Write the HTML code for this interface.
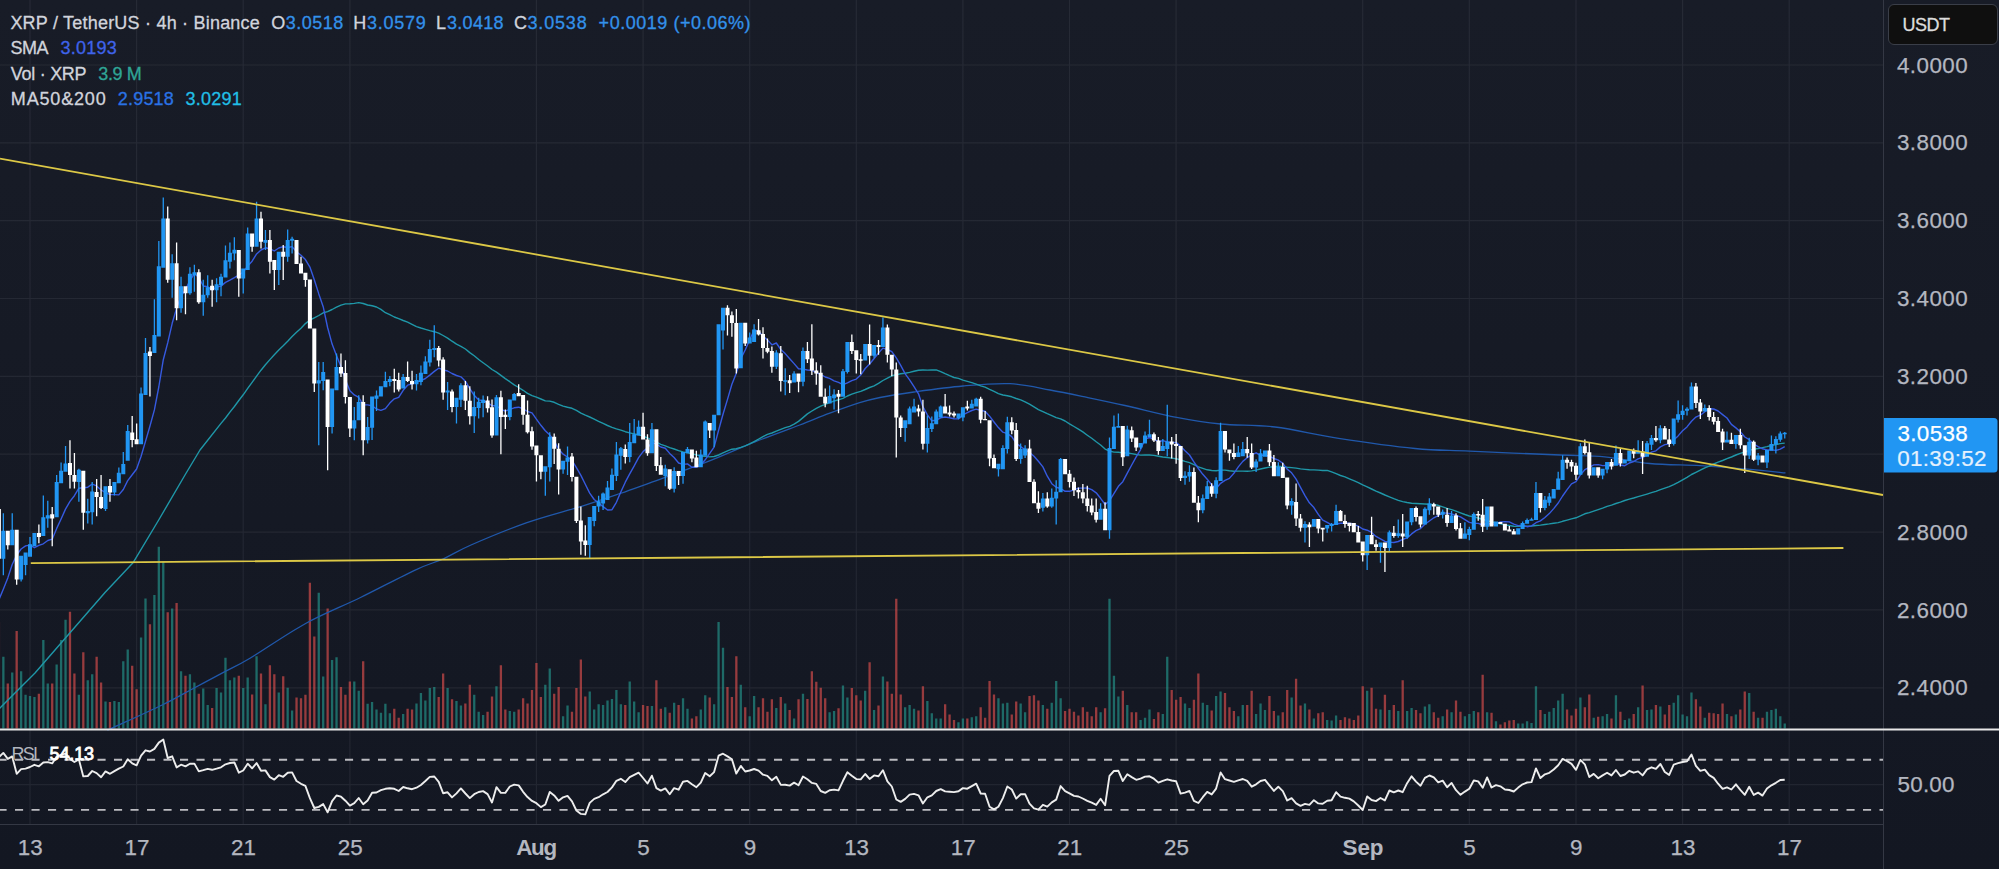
<!DOCTYPE html>
<html><head><meta charset="utf-8"><title>XRP / TetherUS chart</title>
<style>html,body{margin:0;padding:0;background:#131722;}body{width:1999px;height:869px;overflow:hidden;position:relative;background:linear-gradient(to bottom,#181c27 0px,#131722 869px);font-family:'Liberation Sans',Arial,sans-serif}</style>
</head><body>
<svg width="1999" height="869" viewBox="0 0 1999 869" style="position:absolute;left:0;top:0">
<path d="M30.0 0V824M136.6 0V824M243.2 0V824M349.9 0V824M536.4 0V824M643.1 0V824M749.7 0V824M856.3 0V824M962.9 0V824M1069.5 0V824M1176.1 0V824M1362.7 0V824M1469.3 0V824M1576.0 0V824M1682.6 0V824M1789.2 0V824M0 65.0H1884M0 142.8H1884M0 220.7H1884M0 298.5H1884M0 376.4H1884M0 454.2H1884M0 532.1H1884M0 609.9H1884M0 687.8H1884M0 784.7H1884" stroke="#f0f3fa" stroke-opacity="0.065" stroke-width="1.2" fill="none"/>
<path d="M2.20 728.5v-71.8h2.3v71.8zM11.08 728.5v-56.1h2.3v56.1zM19.97 728.5v-57.2h2.3v57.2zM24.41 728.5v-33.7h2.3v33.7zM28.85 728.5v-32.5h2.3v32.5zM33.29 728.5v-31.4h2.3v31.4zM42.18 728.5v-88.6h2.3v88.6zM46.62 728.5v-44.9h2.3v44.9zM55.50 728.5v-63.9h2.3v63.9zM59.95 728.5v-88.6h2.3v88.6zM64.39 728.5v-108.8h2.3v108.8zM77.72 728.5v-33.7h2.3v33.7zM86.60 728.5v-48.2h2.3v48.2zM91.04 728.5v-54.3h2.3v54.3zM104.37 728.5v-26.9h2.3v26.9zM113.26 728.5v-27.4h2.3v27.4zM117.70 728.5v-26.5h2.3v26.5zM122.14 728.5v-67.3h2.3v67.3zM126.58 728.5v-79.0h2.3v79.0zM139.91 728.5v-90.9h2.3v90.9zM144.35 728.5v-130.1h2.3v130.1zM153.24 728.5v-133.5h2.3v133.5zM157.68 728.5v-181.7h2.3v181.7zM162.12 728.5v-167.1h2.3v167.1zM171.01 728.5v-120.0h2.3v120.0zM179.89 728.5v-57.2h2.3v57.2zM188.78 728.5v-54.3h2.3v54.3zM193.22 728.5v-46.0h2.3v46.0zM202.10 728.5v-39.9h2.3v39.9zM206.55 728.5v-23.6h2.3v23.6zM215.43 728.5v-40.4h2.3v40.4zM219.87 728.5v-35.9h2.3v35.9zM224.32 728.5v-70.7h2.3v70.7zM228.76 728.5v-48.2h2.3v48.2zM233.20 728.5v-51.1h2.3v51.1zM242.09 728.5v-40.4h2.3v40.4zM246.53 728.5v-51.1h2.3v51.1zM255.41 728.5v-72.2h2.3v72.2zM264.30 728.5v-24.2h2.3v24.2zM277.62 728.5v-35.9h2.3v35.9zM286.51 728.5v-40.8h2.3v40.8zM290.95 728.5v-17.9h2.3v17.9zM317.61 728.5v-135.7h2.3v135.7zM322.05 728.5v-52.0h2.3v52.0zM330.93 728.5v-68.4h2.3v68.4zM335.38 728.5v-71.3h2.3v71.3zM353.15 728.5v-47.1h2.3v47.1zM357.59 728.5v-37.7h2.3v37.7zM366.47 728.5v-24.7h2.3v24.7zM370.91 728.5v-26.5h2.3v26.5zM375.36 728.5v-19.1h2.3v19.1zM379.80 728.5v-15.7h2.3v15.7zM384.24 728.5v-24.7h2.3v24.7zM388.68 728.5v-15.3h2.3v15.3zM402.01 728.5v-14.6h2.3v14.6zM415.34 728.5v-25.1h2.3v25.1zM419.78 728.5v-35.4h2.3v35.4zM424.22 728.5v-28.0h2.3v28.0zM428.67 728.5v-40.4h2.3v40.4zM433.11 728.5v-41.5h2.3v41.5zM446.44 728.5v-40.4h2.3v40.4zM455.32 728.5v-27.4h2.3v27.4zM459.76 728.5v-22.9h2.3v22.9zM473.09 728.5v-33.7h2.3v33.7zM477.53 728.5v-16.8h2.3v16.8zM481.97 728.5v-13.5h2.3v13.5zM495.30 728.5v-42.2h2.3v42.2zM508.63 728.5v-17.5h2.3v17.5zM513.07 728.5v-16.8h2.3v16.8zM544.17 728.5v-43.7h2.3v43.7zM548.61 728.5v-60.1h2.3v60.1zM561.94 728.5v-12.3h2.3v12.3zM566.38 728.5v-22.9h2.3v22.9zM588.59 728.5v-37.0h2.3v37.0zM593.03 728.5v-19.1h2.3v19.1zM597.48 728.5v-24.2h2.3v24.2zM601.92 728.5v-23.6h2.3v23.6zM606.36 728.5v-28.0h2.3v28.0zM610.80 728.5v-29.6h2.3v29.6zM615.25 728.5v-38.6h2.3v38.6zM619.69 728.5v-24.2h2.3v24.2zM628.57 728.5v-47.1h2.3v47.1zM633.02 728.5v-26.9h2.3v26.9zM637.46 728.5v-16.2h2.3v16.2zM650.79 728.5v-22.4h2.3v22.4zM664.11 728.5v-21.3h2.3v21.3zM673.00 728.5v-25.8h2.3v25.8zM681.88 728.5v-30.3h2.3v30.3zM686.33 728.5v-19.7h2.3v19.7zM699.65 728.5v-19.1h2.3v19.1zM704.09 728.5v-33.2h2.3v33.2zM712.98 728.5v-24.2h2.3v24.2zM717.42 728.5v-106.6h2.3v106.6zM721.86 728.5v-80.8h2.3v80.8zM739.63 728.5v-43.7h2.3v43.7zM748.52 728.5v-12.3h2.3v12.3zM752.96 728.5v-32.5h2.3v32.5zM775.17 728.5v-20.6h2.3v20.6zM784.06 728.5v-25.1h2.3v25.1zM792.94 728.5v-10.1h2.3v10.1zM801.83 728.5v-34.8h2.3v34.8zM828.48 728.5v-16.2h2.3v16.2zM832.92 728.5v-17.5h2.3v17.5zM841.81 728.5v-43.1h2.3v43.1zM846.25 728.5v-31.0h2.3v31.0zM864.02 728.5v-37.7h2.3v37.7zM872.91 728.5v-18.4h2.3v18.4zM881.79 728.5v-52.0h2.3v52.0zM904.00 728.5v-21.3h2.3v21.3zM908.45 728.5v-23.6h2.3v23.6zM912.89 728.5v-19.7h2.3v19.7zM926.21 728.5v-27.4h2.3v27.4zM930.66 728.5v-15.3h2.3v15.3zM935.10 728.5v-10.1h2.3v10.1zM939.54 728.5v-10.1h2.3v10.1zM957.31 728.5v-6.3h2.3v6.3zM961.75 728.5v-10.1h2.3v10.1zM970.64 728.5v-11.2h2.3v11.2zM975.08 728.5v-12.3h2.3v12.3zM997.29 728.5v-30.3h2.3v30.3zM1001.74 728.5v-25.1h2.3v25.1zM1006.18 728.5v-25.8h2.3v25.8zM1019.51 728.5v-25.1h2.3v25.1zM1023.95 728.5v-16.2h2.3v16.2zM1041.72 728.5v-23.6h2.3v23.6zM1050.60 728.5v-25.8h2.3v25.8zM1055.04 728.5v-47.6h2.3v47.6zM1059.49 728.5v-30.3h2.3v30.3zM1099.47 728.5v-16.2h2.3v16.2zM1108.35 728.5v-129.7h2.3v129.7zM1112.80 728.5v-52.7h2.3v52.7zM1117.24 728.5v-31.9h2.3v31.9zM1126.12 728.5v-23.6h2.3v23.6zM1139.45 728.5v-8.5h2.3v8.5zM1143.89 728.5v-10.8h2.3v10.8zM1148.33 728.5v-19.1h2.3v19.1zM1161.66 728.5v-14.6h2.3v14.6zM1166.10 728.5v-71.8h2.3v71.8zM1183.87 728.5v-25.1h2.3v25.1zM1188.32 728.5v-20.6h2.3v20.6zM1201.64 728.5v-25.8h2.3v25.8zM1206.09 728.5v-23.6h2.3v23.6zM1214.97 728.5v-32.5h2.3v32.5zM1219.41 728.5v-37.0h2.3v37.0zM1237.18 728.5v-12.3h2.3v12.3zM1241.63 728.5v-23.6h2.3v23.6zM1254.95 728.5v-14.6h2.3v14.6zM1259.39 728.5v-25.1h2.3v25.1zM1263.84 728.5v-18.4h2.3v18.4zM1277.16 728.5v-13.0h2.3v13.0zM1290.49 728.5v-31.0h2.3v31.0zM1303.82 728.5v-25.1h2.3v25.1zM1312.70 728.5v-10.1h2.3v10.1zM1326.03 728.5v-8.5h2.3v8.5zM1330.47 728.5v-7.9h2.3v7.9zM1334.92 728.5v-13.0h2.3v13.0zM1366.01 728.5v-37.7h2.3v37.7zM1379.34 728.5v-19.1h2.3v19.1zM1388.22 728.5v-18.4h2.3v18.4zM1397.11 728.5v-17.5h2.3v17.5zM1405.99 728.5v-17.5h2.3v17.5zM1410.44 728.5v-20.6h2.3v20.6zM1423.76 728.5v-22.0h2.3v22.0zM1428.21 728.5v-24.2h2.3v24.2zM1441.53 728.5v-12.3h2.3v12.3zM1450.42 728.5v-16.2h2.3v16.2zM1463.75 728.5v-12.3h2.3v12.3zM1468.19 728.5v-14.6h2.3v14.6zM1472.63 728.5v-17.5h2.3v17.5zM1485.96 728.5v-16.2h2.3v16.2zM1494.84 728.5v-7.2h2.3v7.2zM1517.05 728.5v-4.9h2.3v4.9zM1521.50 728.5v-4.9h2.3v4.9zM1525.94 728.5v-7.2h2.3v7.2zM1530.38 728.5v-5.6h2.3v5.6zM1534.82 728.5v-42.2h2.3v42.2zM1543.71 728.5v-14.6h2.3v14.6zM1548.15 728.5v-16.8h2.3v16.8zM1552.59 728.5v-20.6h2.3v20.6zM1557.04 728.5v-28.0h2.3v28.0zM1561.48 728.5v-34.8h2.3v34.8zM1579.25 728.5v-31.0h2.3v31.0zM1592.57 728.5v-10.8h2.3v10.8zM1601.46 728.5v-12.3h2.3v12.3zM1605.90 728.5v-14.6h2.3v14.6zM1614.79 728.5v-33.2h2.3v33.2zM1623.67 728.5v-8.5h2.3v8.5zM1628.11 728.5v-10.1h2.3v10.1zM1637.00 728.5v-21.3h2.3v21.3zM1645.88 728.5v-18.4h2.3v18.4zM1650.33 728.5v-19.1h2.3v19.1zM1659.21 728.5v-22.0h2.3v22.0zM1672.54 728.5v-25.8h2.3v25.8zM1676.98 728.5v-33.2h2.3v33.2zM1681.42 728.5v-13.9h2.3v13.9zM1685.87 728.5v-12.3h2.3v12.3zM1690.31 728.5v-35.9h2.3v35.9zM1703.63 728.5v-10.8h2.3v10.8zM1725.85 728.5v-14.6h2.3v14.6zM1734.73 728.5v-13.9h2.3v13.9zM1748.06 728.5v-35.4h2.3v35.4zM1756.94 728.5v-10.8h2.3v10.8zM1765.83 728.5v-16.8h2.3v16.8zM1770.27 728.5v-18.4h2.3v18.4zM1774.71 728.5v-19.7h2.3v19.7zM1779.16 728.5v-12.3h2.3v12.3zM1783.60 728.5v-4.9h2.3v4.9z" fill="#26a69a" fill-opacity="0.58"/>
<path d="M-2.25 728.5v-106.6h2.3v106.6zM6.64 728.5v-44.9h2.3v44.9zM15.52 728.5v-97.6h2.3v97.6zM37.73 728.5v-34.8h2.3v34.8zM51.06 728.5v-44.9h2.3v44.9zM68.83 728.5v-116.7h2.3v116.7zM73.27 728.5v-55.0h2.3v55.0zM82.16 728.5v-76.3h2.3v76.3zM95.49 728.5v-71.8h2.3v71.8zM99.93 728.5v-46.0h2.3v46.0zM108.81 728.5v-26.5h2.3v26.5zM131.03 728.5v-62.8h2.3v62.8zM135.47 728.5v-39.3h2.3v39.3zM148.79 728.5v-104.3h2.3v104.3zM166.56 728.5v-116.2h2.3v116.2zM175.45 728.5v-125.6h2.3v125.6zM184.33 728.5v-52.7h2.3v52.7zM197.66 728.5v-34.8h2.3v34.8zM210.99 728.5v-20.6h2.3v20.6zM237.64 728.5v-52.7h2.3v52.7zM250.97 728.5v-34.1h2.3v34.1zM259.85 728.5v-55.0h2.3v55.0zM268.74 728.5v-63.3h2.3v63.3zM273.18 728.5v-54.3h2.3v54.3zM282.07 728.5v-52.3h2.3v52.3zM295.39 728.5v-31.0h2.3v31.0zM299.84 728.5v-30.3h2.3v30.3zM304.28 728.5v-33.7h2.3v33.7zM308.72 728.5v-145.8h2.3v145.8zM313.16 728.5v-92.0h2.3v92.0zM326.49 728.5v-120.0h2.3v120.0zM339.82 728.5v-41.5h2.3v41.5zM344.26 728.5v-33.7h2.3v33.7zM348.70 728.5v-47.1h2.3v47.1zM362.03 728.5v-67.3h2.3v67.3zM393.13 728.5v-19.7h2.3v19.7zM397.57 728.5v-10.8h2.3v10.8zM406.45 728.5v-19.7h2.3v19.7zM410.90 728.5v-19.1h2.3v19.1zM437.55 728.5v-31.4h2.3v31.4zM441.99 728.5v-55.0h2.3v55.0zM450.88 728.5v-29.2h2.3v29.2zM464.21 728.5v-25.1h2.3v25.1zM468.65 728.5v-43.7h2.3v43.7zM486.42 728.5v-16.8h2.3v16.8zM490.86 728.5v-31.9h2.3v31.9zM499.74 728.5v-63.3h2.3v63.3zM504.19 728.5v-19.1h2.3v19.1zM517.51 728.5v-19.1h2.3v19.1zM521.96 728.5v-30.3h2.3v30.3zM526.40 728.5v-25.1h2.3v25.1zM530.84 728.5v-38.6h2.3v38.6zM535.28 728.5v-65.5h2.3v65.5zM539.73 728.5v-31.4h2.3v31.4zM553.05 728.5v-34.8h2.3v34.8zM557.50 728.5v-41.5h2.3v41.5zM570.82 728.5v-16.8h2.3v16.8zM575.27 728.5v-40.4h2.3v40.4zM579.71 728.5v-69.1h2.3v69.1zM584.15 728.5v-31.9h2.3v31.9zM624.13 728.5v-23.6h2.3v23.6zM641.90 728.5v-23.6h2.3v23.6zM646.34 728.5v-22.4h2.3v22.4zM655.23 728.5v-48.2h2.3v48.2zM659.67 728.5v-19.7h2.3v19.7zM668.56 728.5v-15.7h2.3v15.7zM677.44 728.5v-23.6h2.3v23.6zM690.77 728.5v-10.1h2.3v10.1zM695.21 728.5v-12.3h2.3v12.3zM708.54 728.5v-31.0h2.3v31.0zM726.31 728.5v-41.5h2.3v41.5zM730.75 728.5v-31.4h2.3v31.4zM735.19 728.5v-72.2h2.3v72.2zM744.08 728.5v-21.3h2.3v21.3zM757.40 728.5v-21.3h2.3v21.3zM761.85 728.5v-30.3h2.3v30.3zM766.29 728.5v-16.8h2.3v16.8zM770.73 728.5v-29.2h2.3v29.2zM779.62 728.5v-31.4h2.3v31.4zM788.50 728.5v-18.4h2.3v18.4zM797.39 728.5v-29.2h2.3v29.2zM806.27 728.5v-29.6h2.3v29.6zM810.71 728.5v-57.2h2.3v57.2zM815.15 728.5v-46.7h2.3v46.7zM819.60 728.5v-40.8h2.3v40.8zM824.04 728.5v-30.3h2.3v30.3zM837.37 728.5v-20.2h2.3v20.2zM850.69 728.5v-40.4h2.3v40.4zM855.14 728.5v-33.2h2.3v33.2zM859.58 728.5v-28.0h2.3v28.0zM868.46 728.5v-66.2h2.3v66.2zM877.35 728.5v-22.9h2.3v22.9zM886.23 728.5v-47.1h2.3v47.1zM890.68 728.5v-34.8h2.3v34.8zM895.12 728.5v-129.7h2.3v129.7zM899.56 728.5v-34.1h2.3v34.1zM917.33 728.5v-17.9h2.3v17.9zM921.77 728.5v-42.2h2.3v42.2zM943.98 728.5v-24.2h2.3v24.2zM948.43 728.5v-13.9h2.3v13.9zM952.87 728.5v-8.5h2.3v8.5zM966.20 728.5v-10.1h2.3v10.1zM979.52 728.5v-21.3h2.3v21.3zM983.97 728.5v-10.8h2.3v10.8zM988.41 728.5v-47.6h2.3v47.6zM992.85 728.5v-34.1h2.3v34.1zM1010.62 728.5v-13.9h2.3v13.9zM1015.06 728.5v-26.9h2.3v26.9zM1028.39 728.5v-32.5h2.3v32.5zM1032.83 728.5v-33.2h2.3v33.2zM1037.27 728.5v-28.0h2.3v28.0zM1046.16 728.5v-19.7h2.3v19.7zM1063.93 728.5v-17.5h2.3v17.5zM1068.37 728.5v-19.7h2.3v19.7zM1072.81 728.5v-16.8h2.3v16.8zM1077.26 728.5v-13.0h2.3v13.0zM1081.70 728.5v-21.3h2.3v21.3zM1086.14 728.5v-16.8h2.3v16.8zM1090.58 728.5v-12.3h2.3v12.3zM1095.03 728.5v-21.3h2.3v21.3zM1103.91 728.5v-20.2h2.3v20.2zM1121.68 728.5v-37.7h2.3v37.7zM1130.57 728.5v-16.2h2.3v16.2zM1135.01 728.5v-16.2h2.3v16.2zM1152.78 728.5v-9.4h2.3v9.4zM1157.22 728.5v-16.2h2.3v16.2zM1170.55 728.5v-38.6h2.3v38.6zM1174.99 728.5v-28.7h2.3v28.7zM1179.43 728.5v-31.4h2.3v31.4zM1192.76 728.5v-28.7h2.3v28.7zM1197.20 728.5v-55.0h2.3v55.0zM1210.53 728.5v-17.9h2.3v17.9zM1223.86 728.5v-35.4h2.3v35.4zM1228.30 728.5v-21.3h2.3v21.3zM1232.74 728.5v-17.5h2.3v17.5zM1246.07 728.5v-23.6h2.3v23.6zM1250.51 728.5v-37.7h2.3v37.7zM1268.28 728.5v-32.5h2.3v32.5zM1272.72 728.5v-17.5h2.3v17.5zM1281.61 728.5v-16.2h2.3v16.2zM1286.05 728.5v-38.6h2.3v38.6zM1294.93 728.5v-49.8h2.3v49.8zM1299.38 728.5v-22.9h2.3v22.9zM1308.26 728.5v-19.1h2.3v19.1zM1317.15 728.5v-15.3h2.3v15.3zM1321.59 728.5v-16.2h2.3v16.2zM1339.36 728.5v-8.5h2.3v8.5zM1343.80 728.5v-11.2h2.3v11.2zM1348.24 728.5v-10.1h2.3v10.1zM1352.69 728.5v-8.5h2.3v8.5zM1357.13 728.5v-13.0h2.3v13.0zM1361.57 728.5v-42.2h2.3v42.2zM1370.45 728.5v-40.8h2.3v40.8zM1374.90 728.5v-19.7h2.3v19.7zM1383.78 728.5v-33.7h2.3v33.7zM1392.67 728.5v-23.6h2.3v23.6zM1401.55 728.5v-48.2h2.3v48.2zM1414.88 728.5v-18.4h2.3v18.4zM1419.32 728.5v-15.3h2.3v15.3zM1432.65 728.5v-16.2h2.3v16.2zM1437.09 728.5v-10.8h2.3v10.8zM1445.98 728.5v-19.1h2.3v19.1zM1454.86 728.5v-28.0h2.3v28.0zM1459.30 728.5v-16.8h2.3v16.8zM1477.07 728.5v-16.2h2.3v16.2zM1481.51 728.5v-53.8h2.3v53.8zM1490.40 728.5v-15.7h2.3v15.7zM1499.28 728.5v-4.0h2.3v4.0zM1503.73 728.5v-6.3h2.3v6.3zM1508.17 728.5v-7.9h2.3v7.9zM1512.61 728.5v-8.5h2.3v8.5zM1539.27 728.5v-18.4h2.3v18.4zM1565.92 728.5v-19.1h2.3v19.1zM1570.36 728.5v-13.0h2.3v13.0zM1574.81 728.5v-19.7h2.3v19.7zM1583.69 728.5v-21.3h2.3v21.3zM1588.13 728.5v-34.1h2.3v34.1zM1597.02 728.5v-11.7h2.3v11.7zM1610.34 728.5v-10.1h2.3v10.1zM1619.23 728.5v-16.8h2.3v16.8zM1632.56 728.5v-14.6h2.3v14.6zM1641.44 728.5v-43.1h2.3v43.1zM1654.77 728.5v-23.6h2.3v23.6zM1663.65 728.5v-13.9h2.3v13.9zM1668.10 728.5v-23.6h2.3v23.6zM1694.75 728.5v-29.2h2.3v29.2zM1699.19 728.5v-22.0h2.3v22.0zM1708.08 728.5v-15.7h2.3v15.7zM1712.52 728.5v-15.3h2.3v15.3zM1716.96 728.5v-14.6h2.3v14.6zM1721.40 728.5v-25.1h2.3v25.1zM1730.29 728.5v-12.3h2.3v12.3zM1739.17 728.5v-19.1h2.3v19.1zM1743.62 728.5v-37.0h2.3v37.0zM1752.50 728.5v-16.8h2.3v16.8zM1761.39 728.5v-10.8h2.3v10.8z" fill="#ef5350" fill-opacity="0.6"/>
<path d="M110.0 729.0C110.4 728.8 103.7 731.9 112.4 727.9C121.1 723.9 148.7 711.6 162.2 705.0C175.7 698.4 182.9 694.0 193.3 688.5C203.7 683.0 215.0 676.9 224.4 671.9C233.8 666.9 236.5 666.2 250.0 658.2C263.5 650.2 286.8 633.8 305.2 623.7C323.6 613.6 342.1 606.5 360.5 597.5C378.9 588.5 401.9 576.2 415.7 569.8C429.5 563.3 434.2 562.9 443.4 558.8C452.6 554.7 457.2 551.0 471.0 545.0C484.8 539.0 507.8 529.4 526.2 522.9C544.6 516.4 565.9 511.2 581.5 506.3C597.1 501.4 608.6 497.4 620.0 493.5C631.4 489.6 635.6 488.0 650.0 482.8C664.4 477.6 688.8 469.0 706.3 462.2C723.8 455.4 739.4 448.1 755.0 441.9C770.6 435.7 787.3 429.8 799.8 425.0C812.3 420.2 819.8 416.9 829.8 413.2C839.8 409.5 851.3 405.3 859.7 402.7C868.1 400.1 871.0 399.3 880.0 397.5C889.0 395.7 900.2 393.9 914.0 392.0C927.8 390.1 947.0 387.4 963.0 386.0C979.0 384.6 995.5 383.0 1010.0 383.7C1024.5 384.4 1037.2 387.7 1050.0 390.0C1062.8 392.3 1074.5 394.8 1087.0 397.4C1099.5 400.0 1110.1 402.2 1125.0 405.5C1139.9 408.8 1160.6 414.3 1176.6 417.4C1192.5 420.5 1204.3 422.4 1220.7 424.0C1237.1 425.6 1255.3 424.6 1275.0 427.0C1294.7 429.4 1315.3 434.8 1338.6 438.4C1361.9 442.0 1393.2 446.4 1415.0 448.5C1436.8 450.6 1445.4 450.1 1469.6 451.2C1493.8 452.3 1537.5 454.1 1560.0 455.0C1582.5 455.9 1589.8 455.4 1604.8 456.8C1619.8 458.2 1633.8 462.0 1649.7 463.5C1665.6 465.0 1684.3 464.8 1700.0 465.7C1715.7 466.6 1729.8 467.6 1744.0 468.8C1758.2 470.0 1778.6 472.2 1785.5 472.9" stroke="#2058ab" stroke-width="1.3" fill="none"/>
<path d="M-5.0 713.0L0.0 708.0L35.0 673.0L70.0 632.8L105.0 592.5L133.0 562.8L158.7 520.0L185.0 475.0L200.0 450.0L221.0 423.4L225.5 418.0L229.9 412.1L234.4 406.5L238.8 400.5L243.2 394.8L247.7 388.4L252.1 382.4L256.6 376.1L261.0 370.2L265.4 364.7L269.9 359.6L274.3 354.7L278.8 350.0L283.2 345.8L287.7 341.3L292.1 336.6L296.5 332.2L301.0 328.3L305.4 323.6L309.9 320.0L314.3 317.8L318.8 315.5L323.2 312.8L327.6 311.6L332.1 309.5L336.5 307.2L341.0 305.2L345.4 303.9L349.9 303.8L354.3 303.4L358.7 302.6L363.2 303.5L367.6 305.0L372.1 305.8L376.5 307.0L380.9 309.4L385.4 312.7L389.8 314.7L394.3 317.0L398.7 318.6L403.2 320.5L407.6 322.2L412.0 324.4L416.5 326.6L420.9 328.0L425.4 329.3L429.8 330.6L434.3 331.7L438.7 333.2L443.1 335.5L447.6 338.1L452.0 341.2L456.5 344.2L460.9 346.3L465.4 349.0L469.8 352.6L474.2 355.8L478.7 359.5L483.1 362.7L487.6 366.0L492.0 369.5L496.5 372.1L500.9 375.4L505.3 378.6L509.8 381.7L514.2 384.9L518.7 387.5L523.1 390.3L527.5 393.4L532.0 395.7L536.4 397.2L540.9 399.0L545.3 400.9L549.8 401.1L554.2 402.3L558.6 404.3L563.1 406.1L567.5 407.3L572.0 408.3L576.4 410.3L580.9 413.1L585.3 415.2L589.7 417.0L594.2 419.1L598.6 421.3L603.1 423.4L607.5 425.5L612.0 427.4L616.4 428.9L620.8 430.1L625.3 431.7L629.7 432.9L634.2 433.9L638.6 434.8L643.1 436.2L647.5 438.0L651.9 439.6L656.4 442.0L660.8 444.3L665.3 445.8L669.7 447.7L674.1 449.0L678.6 450.6L683.0 451.9L687.5 452.9L691.9 453.7L696.4 454.9L700.8 456.0L705.2 456.4L709.7 456.9L714.1 456.5L718.6 455.0L723.0 452.8L727.5 450.8L731.9 449.2L736.3 448.7L740.8 447.3L745.2 445.8L749.7 443.9L754.1 441.6L758.6 439.2L763.0 436.7L767.4 434.4L771.9 433.0L776.3 431.1L780.8 429.3L785.2 427.7L789.7 426.3L794.1 424.2L798.5 421.4L803.0 417.6L807.4 413.9L811.9 411.0L816.3 408.3L820.7 406.2L825.2 404.4L829.6 402.6L834.1 401.0L838.5 399.8L843.0 398.3L847.4 396.0L851.8 394.2L856.3 392.7L860.7 391.4L865.2 389.5L869.6 387.5L874.1 385.8L878.5 383.4L882.9 380.5L887.4 378.2L891.8 375.8L896.3 374.8L900.7 373.8L905.2 373.2L909.6 372.4L914.0 371.3L918.5 370.2L922.9 370.0L927.4 370.1L931.8 370.0L936.2 369.9L940.7 371.6L945.1 373.7L949.6 375.7L954.0 377.5L958.5 378.4L962.9 380.1L967.3 381.4L971.8 382.7L976.2 384.1L980.7 385.8L985.1 387.2L989.6 389.4L994.0 391.4L998.4 393.6L1002.9 395.0L1007.3 395.8L1011.8 396.8L1016.2 398.5L1020.7 399.8L1025.1 401.8L1029.5 404.2L1034.0 406.9L1038.4 409.6L1042.9 411.6L1047.3 413.7L1051.8 415.7L1056.2 417.6L1060.6 418.9L1065.1 421.0L1069.5 423.8L1074.0 426.5L1078.4 429.2L1082.8 431.9L1087.3 435.2L1091.7 438.3L1096.2 441.8L1100.6 445.0L1105.1 449.1L1109.5 451.0L1113.9 452.1L1118.4 452.3L1122.8 452.9L1127.3 453.0L1131.7 453.6L1136.2 454.5L1140.6 455.1L1145.0 454.9L1149.5 455.0L1153.9 455.4L1158.4 456.2L1162.8 457.0L1167.3 457.5L1171.7 458.1L1176.1 458.7L1180.6 460.0L1185.0 461.4L1189.5 462.7L1193.9 464.6L1198.4 466.9L1202.8 468.4L1207.2 469.8L1211.7 470.5L1216.1 470.7L1220.6 470.1L1225.0 470.1L1229.4 470.7L1233.9 471.2L1238.3 471.1L1242.8 471.1L1247.2 471.2L1251.7 470.9L1256.1 470.1L1260.5 469.0L1265.0 468.0L1269.4 467.1L1273.9 466.7L1278.3 466.2L1282.8 466.6L1287.2 467.2L1291.6 467.6L1296.1 468.1L1300.5 468.9L1305.0 469.4L1309.4 469.8L1313.9 469.9L1318.3 470.1L1322.7 470.5L1327.2 470.4L1331.6 471.9L1336.1 473.6L1340.5 475.5L1345.0 476.9L1349.4 478.8L1353.8 480.7L1358.3 482.6L1362.7 484.8L1367.2 486.8L1371.6 489.0L1376.0 491.1L1380.5 493.0L1384.9 495.0L1389.4 496.8L1393.8 498.7L1398.3 500.4L1402.7 501.6L1407.1 502.5L1411.6 503.2L1416.0 503.5L1420.5 503.8L1424.9 504.0L1429.4 504.3L1433.8 504.6L1438.2 505.3L1442.7 506.9L1447.1 508.4L1451.6 509.6L1456.0 511.1L1460.5 512.8L1464.9 514.5L1469.3 516.0L1473.8 516.9L1478.2 518.0L1482.7 519.5L1487.1 520.6L1491.5 521.9L1496.0 522.8L1500.4 523.9L1504.9 525.0L1509.3 525.5L1513.8 526.2L1518.2 526.4L1522.6 526.3L1527.1 526.2L1531.5 526.0L1536.0 525.5L1540.4 525.1L1544.9 524.5L1549.3 523.9L1553.7 523.2L1558.2 522.6L1562.6 521.3L1567.1 520.1L1571.5 518.9L1576.0 517.8L1580.4 515.9L1584.8 513.8L1589.3 512.6L1593.7 511.1L1598.2 509.6L1602.6 508.2L1607.1 506.4L1611.5 505.1L1615.9 503.5L1620.4 502.1L1624.8 500.5L1629.3 499.1L1633.7 498.0L1638.1 496.7L1642.6 495.4L1647.0 494.1L1651.5 492.7L1655.9 491.4L1660.4 489.7L1664.8 488.2L1669.2 486.7L1673.7 484.7L1678.1 482.4L1682.6 479.9L1687.0 477.4L1691.5 474.5L1695.9 472.3L1700.3 470.2L1704.8 467.8L1709.2 466.1L1713.7 464.0L1718.1 462.2L1722.6 460.5L1727.0 458.7L1731.4 457.0L1735.9 455.0L1740.3 453.3L1744.8 452.0L1749.2 450.4L1753.7 449.2L1758.1 448.5L1762.5 447.6L1767.0 446.6L1771.4 445.5L1775.9 444.5L1780.3 443.6L1784.7 443.1" stroke="#1f97a8" stroke-width="1.4" fill="none" stroke-linejoin="round"/>
<path d="M-5.5 616.8L-1.1 599.8L3.3 589.3L7.8 577.9L12.2 564.5L16.7 555.0L21.1 549.0L25.6 545.9L30.0 545.1L34.4 547.7L38.9 545.3L43.3 543.8L47.8 540.5L52.2 539.2L56.7 528.4L61.1 519.0L65.5 509.1L70.0 501.4L74.4 495.7L78.9 488.2L83.3 487.7L87.8 487.2L92.2 484.2L96.6 485.9L101.1 490.0L105.5 492.6L110.0 494.5L114.4 494.6L118.8 494.9L123.3 489.5L127.7 480.6L132.2 474.8L136.6 469.0L141.1 456.2L145.5 441.4L149.9 426.3L154.4 409.9L158.8 387.0L163.3 359.7L167.7 342.9L172.2 323.3L176.6 308.2L181.0 296.3L185.5 289.6L189.9 280.5L194.4 273.5L198.8 277.5L203.3 286.0L207.7 286.8L212.1 289.8L216.6 287.1L221.0 286.1L225.5 282.4L229.9 280.1L234.4 277.6L238.8 275.0L243.2 272.0L247.7 266.1L252.1 261.2L256.6 253.9L261.0 250.0L265.4 247.8L269.9 248.7L274.3 251.0L278.8 248.0L283.2 246.7L287.7 247.5L292.1 246.6L296.5 251.7L301.0 255.2L305.4 259.6L309.9 267.1L314.3 279.7L318.8 293.9L323.2 306.7L327.6 327.5L332.1 344.1L336.5 355.6L341.0 366.7L345.4 379.7L349.9 390.8L354.3 394.9L358.7 397.3L363.2 404.9L367.6 404.9L372.1 405.8L376.5 409.0L380.9 410.4L385.4 408.6L389.8 403.1L394.3 398.8L398.7 397.4L403.2 390.3L407.6 385.2L412.0 383.9L416.5 382.1L420.9 380.6L425.4 378.5L429.8 375.1L434.3 371.4L438.7 368.2L443.1 369.9L447.6 371.0L452.0 373.5L456.5 375.5L460.9 376.8L465.4 381.2L469.8 388.7L474.2 395.3L478.7 399.9L483.1 400.7L487.6 402.6L492.0 405.8L496.5 405.8L500.9 409.3L505.3 411.1L509.8 409.3L514.2 407.8L518.7 407.2L523.1 408.9L527.5 411.5L532.0 412.8L536.4 419.2L540.9 425.3L545.3 430.7L549.8 434.9L554.2 440.9L558.6 449.1L563.1 454.2L567.5 457.0L572.0 460.4L576.4 467.7L580.9 475.4L585.3 484.2L589.7 493.1L594.2 499.5L598.6 503.0L603.1 506.6L607.5 510.0L612.0 509.7L616.4 502.3L620.8 492.0L625.3 482.2L629.7 473.9L634.2 465.9L638.6 457.6L643.1 451.6L647.5 447.8L651.9 442.7L656.4 444.0L660.8 447.0L665.3 448.2L669.7 453.4L674.1 457.5L678.6 463.0L683.0 464.4L687.5 463.9L691.9 467.2L696.4 467.3L700.8 465.0L705.2 459.8L709.7 453.4L714.1 447.1L718.6 430.3L723.0 414.2L727.5 399.4L731.9 384.3L736.3 373.3L740.8 358.7L745.2 350.0L749.7 339.7L754.1 330.2L758.6 331.4L763.0 335.9L767.4 339.9L771.9 344.8L776.3 343.0L780.8 349.5L785.2 353.6L789.7 358.7L794.1 363.6L798.5 368.8L803.0 369.1L807.4 370.0L811.9 370.4L816.3 372.7L820.7 374.4L825.2 377.0L829.6 378.4L834.1 380.8L838.5 382.4L843.0 384.7L847.4 382.8L851.8 380.6L856.3 379.1L860.7 375.1L865.2 368.5L869.6 364.0L874.1 358.5L878.5 353.0L882.9 348.1L887.4 349.5L891.8 351.6L896.3 357.9L900.7 365.4L905.2 373.9L909.6 379.8L914.0 386.6L918.5 393.8L922.9 406.7L927.4 414.9L931.8 420.8L936.2 420.2L940.7 417.8L945.1 417.0L949.6 417.7L954.0 418.7L958.5 418.9L962.9 414.8L967.3 412.7L971.8 410.5L976.2 409.1L980.7 410.5L985.1 411.3L989.6 416.2L994.0 422.0L998.4 427.6L1002.9 432.2L1007.3 433.7L1011.8 436.7L1016.2 443.4L1020.7 446.6L1025.1 449.7L1029.5 452.4L1034.0 456.2L1038.4 461.3L1042.9 466.9L1047.3 476.2L1051.8 483.7L1056.2 487.3L1060.6 488.5L1065.1 491.3L1069.5 491.3L1074.0 489.9L1078.4 488.1L1082.8 488.1L1087.3 488.0L1091.7 489.7L1096.2 492.8L1100.6 498.3L1105.1 504.5L1109.5 500.7L1113.9 493.7L1118.4 486.3L1122.8 481.7L1127.3 473.2L1131.7 465.0L1136.2 456.9L1140.6 449.6L1145.0 439.0L1149.5 437.5L1153.9 439.0L1158.4 441.8L1162.8 440.6L1167.3 441.9L1171.7 442.6L1176.1 442.4L1180.6 446.3L1185.0 450.8L1189.5 455.0L1193.9 461.9L1198.4 468.5L1202.8 474.3L1207.2 479.3L1211.7 484.8L1216.1 488.6L1220.6 483.3L1225.0 480.4L1229.4 478.4L1233.9 473.3L1238.3 466.9L1242.8 461.4L1247.2 457.7L1251.7 454.8L1256.1 452.8L1260.5 455.3L1265.0 455.3L1269.4 456.3L1273.9 458.5L1278.3 460.1L1282.8 463.3L1287.2 469.1L1291.6 472.8L1296.1 479.1L1300.5 487.4L1305.0 495.6L1309.4 502.8L1313.9 507.6L1318.3 514.4L1322.7 520.1L1327.2 522.3L1331.6 524.9L1336.1 524.0L1340.5 523.3L1345.0 523.3L1349.4 523.2L1353.8 524.6L1358.3 526.2L1362.7 529.0L1367.2 530.2L1371.6 532.4L1376.0 536.4L1380.5 538.8L1384.9 541.4L1389.4 542.1L1393.8 542.5L1398.3 541.5L1402.7 539.4L1407.1 537.9L1411.6 533.9L1416.0 530.6L1420.5 528.6L1424.9 524.2L1429.4 521.0L1433.8 517.8L1438.2 515.7L1442.7 513.0L1447.1 513.1L1451.6 514.0L1456.0 515.3L1460.5 516.9L1464.9 519.6L1469.3 522.4L1473.8 523.3L1478.2 523.4L1482.7 525.0L1487.1 523.2L1491.5 524.4L1496.0 523.6L1500.4 521.9L1504.9 521.6L1509.3 521.9L1513.8 524.2L1518.2 525.6L1522.6 525.2L1527.1 526.7L1531.5 525.9L1536.0 522.7L1540.4 520.9L1544.9 517.5L1549.3 513.6L1553.7 508.6L1558.2 503.0L1562.6 496.0L1567.1 489.6L1571.5 483.8L1576.0 481.7L1580.4 474.9L1584.8 469.7L1589.3 467.3L1593.7 464.9L1598.2 464.6L1602.6 465.6L1607.1 465.5L1611.5 465.5L1615.9 463.1L1620.4 465.0L1624.8 465.7L1629.3 463.0L1633.7 461.5L1638.1 458.8L1642.6 457.4L1647.0 455.3L1651.5 452.2L1655.9 450.8L1660.4 446.9L1664.8 444.6L1669.2 443.9L1673.7 440.0L1678.1 435.9L1682.6 430.8L1687.0 426.9L1691.5 421.2L1695.9 417.1L1700.3 415.2L1704.8 411.7L1709.2 408.7L1713.7 409.0L1718.1 411.0L1722.6 414.6L1727.0 418.0L1731.4 424.4L1735.9 427.9L1740.3 431.7L1744.8 437.0L1749.2 439.7L1753.7 444.0L1758.1 446.6L1762.5 448.8L1767.0 449.9L1771.4 449.9L1775.9 450.4L1780.3 449.1L1784.7 446.6" stroke="#365ae0" stroke-width="1.4" fill="none" stroke-linejoin="round"/>
<path d="M2.70 513.2V575.3h1.3V513.2zM1.3 530.8V558.8h4V530.8zM11.58 513.2V545.3h1.3V513.2zM10.2 529.8V545.3h4V529.8zM20.47 555.7V581.6h1.3V555.7zM19.1 555.7V579.5h4V555.7zM24.91 552.6V575.3h1.3V552.6zM23.6 552.6V565.0h4V552.6zM29.35 537.0V556.7h1.3V537.0zM28.0 544.3V556.7h4V544.3zM33.79 532.9V546.3h1.3V532.9zM32.4 532.9V546.3h4V532.9zM42.68 495.6V536.0h1.3V495.6zM41.3 517.3V536.0h4V517.3zM47.12 500.8V527.7h1.3V500.8zM45.8 515.3V518.4h4V515.3zM56.00 474.9V517.3h1.3V474.9zM54.7 482.1V517.3h4V482.1zM60.45 462.5V483.2h1.3V462.5zM59.1 470.7V483.2h4V470.7zM64.89 445.9V471.8h1.3V445.9zM63.5 463.5V471.8h4V463.5zM78.22 468.7V501.8h1.3V468.7zM76.9 469.7V482.1h4V469.7zM87.10 498.7V523.6h1.3V498.7zM85.8 511.1V513.2h4V511.1zM91.54 482.1V524.6h1.3V482.1zM90.2 491.5V512.2h4V491.5zM104.87 486.3V511.1h1.3V486.3zM103.5 486.3V509.1h4V486.3zM113.76 482.1V495.6h1.3V482.1zM112.4 482.1V492.5h4V482.1zM118.20 467.6V483.2h1.3V467.6zM116.8 472.8V483.2h4V472.8zM122.64 452.1V474.3h1.3V452.1zM121.3 463.9V474.3h4V463.9zM127.08 424.9V460.8h1.3V424.9zM125.7 430.9V460.8h4V430.9zM140.41 387.5V444.3h1.3V387.5zM139.1 393.5V444.3h4V393.5zM144.85 338.1V395.0h1.3V338.1zM143.5 353.1V395.0h4V353.1zM153.74 299.2V353.1h1.3V299.2zM152.4 335.1V353.1h4V335.1zM158.18 240.9V336.6h1.3V240.9zM156.8 266.3V336.6h4V266.3zM162.62 197.5V267.8h1.3V197.5zM161.3 218.4V267.8h4V218.4zM171.51 254.3V297.7h1.3V254.3zM170.2 263.3V279.8h4V263.3zM180.39 276.8V312.7h1.3V276.8zM179.0 286.3V308.2h4V286.3zM189.28 267.2V294.7h1.3V267.2zM187.9 273.8V293.2h4V273.8zM193.72 264.8V291.7h1.3V264.8zM192.4 272.3V275.3h4V272.3zM202.60 279.8V315.7h1.3V279.8zM201.3 294.7V302.2h4V294.7zM207.05 275.3V297.7h1.3V275.3zM205.7 287.2V295.3h4V287.2zM215.93 278.3V302.2h1.3V278.3zM214.6 284.3V290.2h4V284.3zM220.37 273.8V296.2h1.3V273.8zM219.0 276.8V285.2h4V276.8zM224.82 245.4V277.4h1.3V245.4zM223.5 260.3V277.4h4V260.3zM229.26 242.4V268.4h1.3V242.4zM227.9 252.8V261.8h4V252.8zM233.70 237.3V260.3h1.3V237.3zM232.4 249.8V253.4h4V249.8zM242.59 268.4V293.5h1.3V268.4zM241.2 268.4V278.4h4V268.4zM247.03 227.4V270.1h1.3V227.4zM245.7 233.4V270.1h4V233.4zM255.91 201.7V246.7h1.3V201.7zM254.6 218.4V246.7h4V218.4zM264.80 230.0V250.1h1.3V230.0zM263.4 240.1V242.7h4V240.1zM278.12 251.7V285.1h1.3V251.7zM276.8 251.7V270.1h4V251.7zM287.01 229.4V261.7h1.3V229.4zM285.7 240.1V256.7h4V240.1zM291.45 236.7V253.4h1.3V236.7zM290.1 238.7V240.7h4V238.7zM318.11 361.9V445.3h1.3V361.9zM316.8 380.2V383.6h4V380.2zM322.55 361.9V390.2h1.3V361.9zM321.2 371.9V380.9h4V371.9zM331.43 388.6V433.6h1.3V388.6zM330.1 388.6V426.9h4V388.6zM335.88 353.5V390.2h1.3V353.5zM334.5 366.9V390.2h4V366.9zM353.65 406.9V440.3h1.3V406.9zM352.3 420.3V428.6h4V420.3zM358.09 395.2V420.3h1.3V395.2zM356.7 401.9V420.3h4V401.9zM366.97 416.9V443.6h1.3V416.9zM365.6 426.9V440.3h4V426.9zM371.41 396.6V440.1h1.3V396.6zM370.1 396.6V427.7h4V396.6zM375.86 390.4V411.1h1.3V390.4zM374.5 395.6V398.7h4V395.6zM380.30 386.3V396.6h1.3V386.3zM378.9 386.3V396.6h4V386.3zM384.74 371.8V387.3h1.3V371.8zM383.4 381.1V387.3h4V381.1zM389.18 375.9V386.3h1.3V375.9zM387.8 379.0V382.1h4V379.0zM402.51 373.9V388.4h1.3V373.9zM401.2 377.0V388.4h4V377.0zM415.84 373.9V390.4h1.3V373.9zM414.5 380.1V384.2h4V380.1zM420.28 365.6V385.2h1.3V365.6zM418.9 372.8V382.1h4V372.8zM424.72 356.2V373.9h1.3V356.2zM423.4 361.4V373.9h4V361.4zM429.17 339.7V366.6h1.3V339.7zM427.8 349.0V362.5h4V349.0zM433.61 325.2V357.3h1.3V325.2zM432.3 348.0V350.0h4V348.0zM446.94 382.1V410.1h1.3V382.1zM445.6 390.4V392.5h4V390.4zM455.82 397.7V423.6h1.3V397.7zM454.5 397.7V407.0h4V397.7zM460.26 383.2V407.0h1.3V383.2zM458.9 385.2V399.7h4V385.2zM473.59 391.5V432.9h1.3V391.5zM472.2 407.0V416.3h4V407.0zM478.03 397.7V418.4h1.3V397.7zM476.7 401.8V408.0h4V401.8zM482.47 395.6V417.3h1.3V395.6zM481.1 399.7V402.9h4V399.7zM495.80 395.1V435.6h1.3V395.1zM494.5 397.3V435.6h4V397.3zM509.13 399.5V420.3h1.3V399.5zM507.8 399.5V417.0h4V399.5zM513.57 393.0V400.6h1.3V393.0zM512.2 394.0V400.6h4V394.0zM544.67 466.2V495.7h1.3V466.2zM543.3 466.2V471.7h4V466.2zM549.11 432.3V481.5h1.3V432.3zM547.8 436.7V467.3h4V436.7zM562.44 460.7V473.8h1.3V460.7zM561.1 460.7V469.5h4V460.7zM566.88 446.5V474.9h1.3V446.5zM565.5 457.5V461.8h4V457.5zM589.09 516.9V559.1h1.3V516.9zM587.7 516.9V544.9h4V516.9zM593.53 506.0V526.3h1.3V506.0zM592.2 506.0V520.9h4V506.0zM597.98 495.7V512.1h1.3V495.7zM596.6 501.2V506.6h4V501.2zM602.42 492.4V509.9h1.3V492.4zM601.1 493.5V503.4h4V493.5zM606.86 481.1V500.1h1.3V481.1zM605.5 487.5V500.1h4V487.5zM611.30 468.5V490.0h1.3V468.5zM610.0 474.8V490.0h4V474.8zM615.75 441.9V481.1h1.3V441.9zM614.4 454.6V476.1h4V454.6zM620.19 447.0V469.7h1.3V447.0zM618.8 448.2V455.8h4V448.2zM629.07 422.9V462.2h1.3V422.9zM627.7 441.9V457.1h4V441.9zM633.52 419.1V443.2h1.3V419.1zM632.2 434.3V443.2h4V434.3zM637.96 420.4V435.6h1.3V420.4zM636.6 426.7V435.6h4V426.7zM651.29 422.9V453.3h1.3V422.9zM649.9 429.2V453.3h4V429.2zM664.61 464.7V486.2h1.3V464.7zM663.3 468.5V476.1h4V468.5zM673.50 467.2V492.5h1.3V467.2zM672.1 471.0V488.7h4V471.0zM682.38 452.0V483.7h1.3V452.0zM681.0 452.0V476.1h4V452.0zM686.83 447.0V453.3h1.3V447.0zM685.5 449.0V453.3h4V449.0zM700.15 449.5V467.2h1.3V449.5zM698.8 454.6V467.2h4V454.6zM704.59 420.4V455.8h1.3V420.4zM703.2 421.6V455.8h4V421.6zM713.48 414.8V447.0h1.3V414.8zM712.1 414.8V430.5h4V414.8zM717.92 324.2V415.3h1.3V324.2zM716.6 324.2V415.3h4V324.2zM722.36 307.7V349.5h1.3V307.7zM721.0 307.7V330.5h4V307.7zM740.13 322.7V368.3h1.3V322.7zM738.8 322.7V368.3h4V322.7zM749.02 332.4V343.6h1.3V332.4zM747.7 337.6V343.6h4V337.6zM753.46 324.2V342.1h1.3V324.2zM752.1 329.4V342.1h4V329.4zM775.67 350.3V369.0h1.3V350.3zM774.3 352.6V366.8h4V352.6zM784.56 368.3V395.2h1.3V368.3zM783.2 380.3V381.8h4V380.3zM793.44 371.3V382.5h1.3V371.3zM792.1 373.5V382.5h4V373.5zM802.33 347.4V386.2h1.3V347.4zM801.0 351.1V381.8h4V351.1zM828.98 385.5V403.5h1.3V385.5zM827.6 396.0V403.5h4V396.0zM833.42 389.2V409.4h1.3V389.2zM832.1 394.5V398.2h4V394.5zM842.31 369.0V396.7h1.3V369.0zM841.0 371.3V396.7h4V371.3zM846.75 342.1V373.5h1.3V342.1zM845.4 342.1V372.0h4V342.1zM864.52 344.0V360.6h1.3V344.0zM863.2 344.0V360.6h4V344.0zM873.41 345.0V357.7h1.3V345.0zM872.1 345.0V355.8h4V345.0zM882.29 317.6V346.9h1.3V317.6zM880.9 327.4V346.9h4V327.4zM904.50 420.3V441.8h1.3V420.3zM903.2 420.3V428.1h4V420.3zM908.95 406.6V424.2h1.3V406.6zM907.6 408.6V424.2h4V408.6zM913.39 398.8V412.5h1.3V398.8zM912.0 406.6V412.5h4V406.6zM926.71 415.4V452.6h1.3V415.4zM925.4 428.1V443.8h4V428.1zM931.16 416.4V432.0h1.3V416.4zM929.8 423.2V429.1h4V423.2zM935.60 409.5V424.2h1.3V409.5zM934.2 411.5V424.2h4V411.5zM940.04 405.6V417.4h1.3V405.6zM938.7 406.6V417.4h4V406.6zM957.81 413.5V419.3h1.3V413.5zM956.5 413.5V418.3h4V413.5zM962.25 407.2V421.3h1.3V407.2zM960.9 407.2V417.4h4V407.2zM971.14 399.8V408.6h1.3V399.8zM969.8 403.7V408.6h4V403.7zM975.58 397.8V406.6h1.3V397.8zM974.2 398.8V406.6h4V398.8zM997.79 463.7V476.5h1.3V463.7zM996.4 463.7V469.2h4V463.7zM1002.24 445.2V469.2h1.3V445.2zM1000.9 448.0V469.2h4V448.0zM1006.68 416.7V453.5h1.3V416.7zM1005.3 422.2V448.9h4V422.2zM1020.01 443.4V463.7h1.3V443.4zM1018.7 448.9V459.0h4V448.9zM1024.45 445.2V458.1h1.3V445.2zM1023.1 448.6V455.4h4V448.6zM1042.22 493.1V511.5h1.3V493.1zM1040.9 498.6V507.8h4V498.6zM1051.10 488.5V507.8h1.3V488.5zM1049.8 497.7V506.4h4V497.7zM1055.54 480.2V524.4h1.3V480.2zM1054.2 491.8V498.6h4V491.8zM1059.99 458.1V492.2h1.3V458.1zM1058.6 459.0V492.2h4V459.0zM1099.97 503.2V519.8h1.3V503.2zM1098.6 508.8V519.8h4V508.8zM1108.85 437.5V538.8h1.3V437.5zM1107.5 448.0V530.3h4V448.0zM1113.30 415.4V448.9h1.3V415.4zM1111.9 426.8V448.9h4V426.8zM1117.74 413.6V427.7h1.3V413.6zM1116.4 425.9V427.7h4V425.9zM1126.62 425.7V456.3h1.3V425.7zM1125.3 429.4V456.3h4V429.4zM1139.95 442.9V448.9h1.3V442.9zM1138.6 442.9V447.4h4V442.9zM1144.39 431.6V443.6h1.3V431.6zM1143.0 435.4V443.6h4V435.4zM1148.83 419.7V436.9h1.3V419.7zM1147.5 434.2V436.9h4V434.2zM1162.16 439.1V451.1h1.3V439.1zM1160.8 445.9V451.1h4V445.9zM1166.60 404.7V456.3h1.3V404.7zM1165.3 441.4V448.9h4V441.4zM1184.37 471.3V484.8h1.3V471.3zM1183.0 475.8V478.0h4V475.8zM1188.82 465.3V481.8h1.3V465.3zM1187.5 472.0V476.5h4V472.0zM1202.14 494.5V513.2h1.3V494.5zM1200.8 498.2V510.2h4V498.2zM1206.59 481.0V499.0h1.3V481.0zM1205.2 486.2V499.0h4V486.2zM1215.47 477.3V498.2h1.3V477.3zM1214.1 480.3V493.7h4V480.3zM1219.91 422.7V481.0h1.3V422.7zM1218.6 430.9V481.0h4V430.9zM1237.68 445.9V457.1h1.3V445.9zM1236.3 452.6V457.1h4V452.6zM1242.13 442.1V456.3h1.3V442.1zM1240.8 448.9V456.3h4V448.9zM1255.45 459.3V472.0h1.3V459.3zM1254.1 461.6V467.6h4V461.6zM1259.89 448.9V461.6h1.3V448.9zM1258.5 453.3V461.6h4V453.3zM1264.34 450.4V456.8h1.3V450.4zM1263.0 450.4V456.8h4V450.4zM1277.66 462.3V476.2h1.3V462.3zM1276.3 467.0V476.2h4V467.0zM1290.99 498.3V514.8h1.3V498.3zM1289.6 501.0V505.6h4V501.0zM1304.32 521.3V542.4h1.3V521.3zM1303.0 524.0V527.7h4V524.0zM1313.20 519.1V526.8h1.3V519.1zM1311.9 519.1V526.8h4V519.1zM1326.53 525.0V532.7h1.3V525.0zM1325.2 525.0V528.6h4V525.0zM1330.97 523.1V531.4h1.3V523.1zM1329.6 524.0V525.9h4V524.0zM1335.42 504.7V525.0h1.3V504.7zM1334.1 511.1V525.0h4V511.1zM1366.51 535.1V570.1h1.3V535.1zM1365.2 535.1V555.3h4V535.1zM1379.84 542.4V562.7h1.3V542.4zM1378.5 542.4V547.0h4V542.4zM1388.72 530.5V551.7h1.3V530.5zM1387.4 532.3V548.0h4V532.3zM1397.61 519.4V537.8h1.3V519.4zM1396.3 533.2V536.0h4V533.2zM1406.49 521.5V538.7h1.3V521.5zM1405.1 521.5V537.2h4V521.5zM1410.94 508.1V525.3h1.3V508.1zM1409.6 508.1V522.3h4V508.1zM1424.26 507.3V524.5h1.3V507.3zM1422.9 508.8V524.5h4V508.8zM1428.71 498.3V514.8h1.3V498.3zM1427.4 503.6V510.3h4V503.6zM1442.03 509.6V518.5h1.3V509.6zM1440.7 511.8V514.8h4V511.8zM1450.92 511.1V523.0h1.3V511.1zM1449.6 515.5V523.0h4V515.5zM1464.25 522.3V538.7h1.3V522.3zM1462.9 533.5V538.7h4V533.5zM1468.69 526.8V540.2h1.3V526.8zM1467.3 529.0V535.0h4V529.0zM1473.13 512.6V529.8h1.3V512.6zM1471.8 514.0V529.8h4V514.0zM1486.46 506.6V529.8h1.3V506.6zM1485.1 506.6V526.8h4V506.6zM1495.34 521.5V526.5h1.3V521.5zM1494.0 521.5V526.5h4V521.5zM1517.55 528.3V534.5h1.3V528.3zM1516.2 528.3V534.5h4V528.3zM1522.00 521.5V529.0h1.3V521.5zM1520.6 523.0V529.0h4V523.0zM1526.44 518.5V523.8h1.3V518.5zM1525.1 520.0V523.8h4V520.0zM1530.88 517.8V520.8h1.3V517.8zM1529.5 519.3V520.8h4V519.3zM1535.32 481.9V520.0h1.3V481.9zM1534.0 493.1V520.0h4V493.1zM1544.21 496.1V510.3h1.3V496.1zM1542.9 499.8V508.1h4V499.8zM1548.65 493.1V505.8h1.3V493.1zM1547.3 496.5V502.8h4V496.5zM1553.09 488.9V498.6h1.3V488.9zM1551.7 488.9V498.6h4V488.9zM1557.54 471.7V489.7h1.3V471.7zM1556.2 478.5V489.7h4V478.5zM1561.98 455.3V479.9h1.3V455.3zM1560.6 459.8V479.9h4V459.8zM1579.75 443.3V474.7h1.3V443.3zM1578.4 446.3V474.7h4V446.3zM1593.07 467.2V475.5h1.3V467.2zM1591.7 467.2V475.5h4V467.2zM1601.96 468.7V479.2h1.3V468.7zM1600.6 468.7V475.5h4V468.7zM1606.40 462.0V473.2h1.3V462.0zM1605.1 462.0V469.5h4V462.0zM1615.29 445.5V465.7h1.3V445.5zM1613.9 453.0V465.7h4V453.0zM1624.17 459.8V463.5h1.3V459.8zM1622.8 459.8V463.5h4V459.8zM1628.61 450.8V461.2h1.3V450.8zM1627.3 450.8V461.2h4V450.8zM1637.50 440.3V453.8h1.3V440.3zM1636.1 450.8V453.8h4V450.8zM1646.38 441.1V456.8h1.3V441.1zM1645.0 443.3V456.8h4V443.3zM1650.83 435.1V450.0h1.3V435.1zM1649.5 438.1V444.8h4V438.1zM1659.71 425.3V443.3h1.3V425.3zM1658.4 428.3V440.3h4V428.3zM1673.04 418.6V445.5h1.3V418.6zM1671.7 418.6V444.0h4V418.6zM1677.48 400.4V422.5h1.3V400.4zM1676.1 414.2V419.7h4V414.2zM1681.92 405.2V419.7h1.3V405.2zM1680.6 410.7V414.9h4V410.7zM1686.37 407.3V415.6h1.3V407.3zM1685.0 408.7V410.7h4V408.7zM1690.81 382.4V409.4h1.3V382.4zM1689.5 386.6V409.4h4V386.6zM1704.13 404.5V411.4h1.3V404.5zM1702.8 408.0V411.4h4V408.0zM1726.35 431.4V442.5h1.3V431.4zM1725.0 439.7V442.5h4V439.7zM1735.23 434.9V448.7h1.3V434.9zM1733.9 434.9V443.9h4V434.9zM1748.56 437.7V459.1h1.3V437.7zM1747.2 441.8V455.6h4V441.8zM1757.44 452.9V465.3h1.3V452.9zM1756.1 455.6V459.8h4V455.6zM1766.33 450.1V468.0h1.3V450.1zM1765.0 450.1V462.5h4V450.1zM1770.77 435.6V450.8h1.3V435.6zM1769.4 443.9V450.8h4V443.9zM1775.21 436.3V453.5h1.3V436.3zM1773.9 439.0V444.6h4V439.0zM1779.66 431.4V441.8h1.3V431.4zM1778.3 433.5V439.7h4V433.5zM1784.10 432.1V438.4h1.3V432.1zM1782.7 432.8V434.2h4V432.8z" fill="#2196f3"/>
<path d="M-1.75 509.1V558.8h1.3V509.1zM-3.1 509.1V558.8h4V509.1zM7.14 530.8V549.5h1.3V530.8zM5.8 530.8V545.3h4V530.8zM16.02 529.8V584.7h1.3V529.8zM14.7 529.8V579.5h4V529.8zM38.23 524.6V543.2h1.3V524.6zM36.9 532.9V537.0h4V532.9zM51.56 507.0V546.3h1.3V507.0zM50.2 514.2V518.4h4V514.2zM69.33 440.3V488.4h1.3V440.3zM68.0 463.1V474.9h4V463.1zM73.77 453.1V488.4h1.3V453.1zM72.4 474.9V481.7h4V474.9zM82.66 470.7V529.8h1.3V470.7zM81.3 470.7V512.8h4V470.7zM95.99 479.0V516.3h1.3V479.0zM94.6 492.1V497.1h4V492.1zM100.43 474.9V509.1h1.3V474.9zM99.1 497.1V508.0h4V497.1zM109.31 479.0V501.8h1.3V479.0zM108.0 485.9V492.5h4V485.9zM131.53 415.9V447.3h1.3V415.9zM130.2 432.4V439.9h4V432.4zM135.97 423.4V444.3h1.3V423.4zM134.6 439.3V444.3h4V439.3zM149.29 347.1V396.5h1.3V347.1zM147.9 351.6V356.1h4V351.6zM167.06 206.5V282.8h1.3V206.5zM165.7 218.4V279.8h4V218.4zM175.95 242.4V320.2h1.3V242.4zM174.6 263.3V308.2h4V263.3zM184.83 286.3V314.2h1.3V286.3zM183.5 286.3V293.2h4V286.3zM198.16 269.3V303.7h1.3V269.3zM196.8 272.3V302.2h4V272.3zM211.49 279.8V306.7h1.3V279.8zM210.1 285.8V290.2h4V285.8zM238.14 250.1V296.8h1.3V250.1zM236.8 250.1V278.4h4V250.1zM251.47 233.4V251.7h1.3V233.4zM250.1 233.4V246.7h4V233.4zM260.35 211.7V248.4h1.3V211.7zM259.0 218.4V241.7h4V218.4zM269.24 230.0V273.4h1.3V230.0zM267.9 240.1V261.7h4V240.1zM273.68 260.1V290.1h1.3V260.1zM272.3 260.1V270.1h4V260.1zM282.57 245.1V280.1h1.3V245.1zM281.2 251.7V256.7h4V251.7zM295.89 240.1V264.1h1.3V240.1zM294.5 240.1V264.1h4V240.1zM300.34 256.7V273.4h1.3V256.7zM299.0 263.4V273.4h4V263.4zM304.78 272.8V286.8h1.3V272.8zM303.4 272.8V280.1h4V272.8zM309.22 279.4V328.5h1.3V279.4zM307.9 279.4V328.5h4V279.4zM313.66 328.5V391.9h1.3V328.5zM312.3 328.5V383.6h4V328.5zM326.99 379.5V470.3h1.3V379.5zM325.6 379.5V426.9h4V379.5zM340.32 353.5V376.9h1.3V353.5zM339.0 366.9V373.5h4V366.9zM344.76 360.2V403.6h1.3V360.2zM343.4 372.9V396.9h4V372.9zM349.20 396.9V436.9h1.3V396.9zM347.9 396.9V428.6h4V396.9zM362.53 395.2V455.3h1.3V395.2zM361.2 401.9V440.3h4V401.9zM393.63 368.7V392.5h1.3V368.7zM392.3 379.0V381.1h4V379.0zM398.07 372.8V391.5h1.3V372.8zM396.7 380.1V389.4h4V380.1zM406.95 361.4V382.1h1.3V361.4zM405.6 377.0V381.1h4V377.0zM411.40 370.7V389.4h1.3V370.7zM410.0 381.1V384.2h4V381.1zM438.05 345.9V366.6h1.3V345.9zM436.7 348.0V360.4h4V348.0zM442.49 357.3V399.7h1.3V357.3zM441.1 359.4V392.5h4V359.4zM451.38 389.4V412.2h1.3V389.4zM450.0 391.5V407.0h4V391.5zM464.71 381.1V410.1h1.3V381.1zM463.4 385.2V400.8h4V385.2zM469.15 386.3V424.6h1.3V386.3zM467.8 400.8V416.3h4V400.8zM486.92 396.2V412.6h1.3V396.2zM485.6 400.6V408.3h4V400.6zM491.36 399.5V437.8h1.3V399.5zM490.0 407.2V435.6h4V407.2zM500.24 390.8V454.2h1.3V390.8zM498.9 397.3V417.0h4V397.3zM504.69 409.4V429.0h1.3V409.4zM503.3 414.8V417.0h4V414.8zM518.01 384.2V396.2h1.3V384.2zM516.7 393.0V396.2h4V393.0zM522.46 395.1V424.7h1.3V395.1zM521.1 395.1V414.8h4V395.1zM526.90 400.6V433.4h1.3V400.6zM525.5 414.8V432.3h4V414.8zM531.34 426.8V449.8h1.3V426.8zM530.0 431.2V446.5h4V431.2zM535.78 445.4V481.5h1.3V445.4zM534.4 445.4V455.3h4V445.4zM540.23 455.3V479.3h1.3V455.3zM538.9 455.3V471.7h4V455.3zM553.55 433.4V464.0h1.3V433.4zM552.2 436.7V448.7h4V436.7zM558.00 443.2V494.6h1.3V443.2zM556.6 448.7V469.5h4V448.7zM571.32 453.1V481.5h1.3V453.1zM570.0 456.4V477.1h4V456.4zM575.77 476.7V523.0h1.3V476.7zM574.4 476.7V520.9h4V476.7zM580.21 506.6V554.7h1.3V506.6zM578.9 520.4V541.6h4V520.4zM584.65 525.2V555.8h1.3V525.2zM583.3 540.5V544.9h4V540.5zM624.63 444.4V463.4h1.3V444.4zM623.3 449.0V457.1h4V449.0zM642.40 412.8V439.4h1.3V412.8zM641.1 426.7V439.4h4V426.7zM646.84 434.3V455.8h1.3V434.3zM645.5 439.4V453.3h4V439.4zM655.73 429.2V471.0h1.3V429.2zM654.4 429.2V465.9h4V429.2zM660.17 457.1V474.8h1.3V457.1zM658.8 465.2V474.8h4V465.2zM669.06 469.2V490.0h1.3V469.2zM667.7 469.2V488.7h4V469.2zM677.94 471.0V484.9h1.3V471.0zM676.6 471.0V476.1h4V471.0zM691.27 449.5V462.2h1.3V449.5zM689.9 449.5V458.4h4V449.5zM695.71 450.8V467.2h1.3V450.8zM694.4 457.6V467.2h4V457.6zM709.04 422.9V438.1h1.3V422.9zM707.7 422.9V430.5h4V422.9zM726.81 305.2V335.6h1.3V305.2zM725.5 307.7V315.3h4V307.7zM731.25 311.5V336.8h1.3V311.5zM729.9 315.3V322.9h4V315.3zM735.69 309.0V373.5h1.3V309.0zM734.3 322.9V368.5h4V322.9zM744.58 322.7V345.9h1.3V322.7zM743.2 322.7V343.6h4V322.7zM757.90 318.9V335.4h1.3V318.9zM756.6 330.2V334.6h4V330.2zM762.35 327.2V358.6h1.3V327.2zM761.0 333.9V348.1h4V333.9zM766.79 338.4V353.3h1.3V338.4zM765.4 348.1V351.8h4V348.1zM771.23 346.6V372.8h1.3V346.6zM769.9 351.1V366.8h4V351.1zM780.12 345.9V391.5h1.3V345.9zM778.8 353.3V381.0h4V353.3zM789.00 375.0V393.0h1.3V375.0zM787.7 380.3V383.3h4V380.3zM797.89 373.5V392.2h1.3V373.5zM796.5 373.5V381.8h4V373.5zM806.77 342.1V363.1h1.3V342.1zM805.4 351.1V359.3h4V351.1zM811.21 324.2V375.0h1.3V324.2zM809.9 358.6V370.5h4V358.6zM815.65 362.3V384.8h1.3V362.3zM814.3 370.5V373.5h4V370.5zM820.10 365.3V396.7h1.3V365.3zM818.7 372.8V396.7h4V372.8zM824.54 388.5V407.2h1.3V388.5zM823.2 396.7V403.5h4V396.7zM837.87 390.0V413.2h1.3V390.0zM836.5 393.7V396.7h4V393.7zM851.19 334.6V354.1h1.3V334.6zM849.8 342.1V351.1h4V342.1zM855.64 350.3V373.5h1.3V350.3zM854.3 350.3V360.1h4V350.3zM860.08 354.1V374.3h1.3V354.1zM858.7 359.3V360.8h4V359.3zM868.96 324.5V364.6h1.3V324.5zM867.6 344.0V355.8h4V344.0zM877.85 340.1V354.8h1.3V340.1zM876.5 345.0V346.9h4V345.0zM886.73 324.5V362.6h1.3V324.5zM885.4 327.4V354.8h4V327.4zM891.18 354.8V376.3h1.3V354.8zM889.8 354.8V369.4h4V354.8zM895.62 362.6V457.5h1.3V362.6zM894.3 369.4V417.4h4V369.4zM900.06 415.4V436.9h1.3V415.4zM898.7 417.4V428.1h4V417.4zM917.83 404.7V416.4h1.3V404.7zM916.5 408.6V411.5h4V408.6zM922.27 399.8V449.6h1.3V399.8zM920.9 411.5V443.8h4V411.5zM944.48 393.9V413.5h1.3V393.9zM943.1 406.6V413.5h4V406.6zM948.93 405.6V416.4h1.3V405.6zM947.6 412.5V414.4h4V412.5zM953.37 411.5V417.4h1.3V411.5zM952.0 413.5V415.4h4V413.5zM966.70 400.7V410.5h1.3V400.7zM965.3 406.6V408.6h4V406.6zM980.02 396.8V423.2h1.3V396.8zM978.7 398.8V419.7h4V398.8zM984.47 411.1V420.3h1.3V411.1zM983.1 418.9V420.3h4V418.9zM988.91 420.3V466.3h1.3V420.3zM987.6 420.3V458.5h4V420.3zM993.35 454.4V468.3h1.3V454.4zM992.0 458.1V468.3h4V458.1zM1011.12 417.3V434.2h1.3V417.3zM1009.8 422.2V430.5h4V422.2zM1015.56 423.1V460.9h1.3V423.1zM1014.2 430.1V459.0h4V430.1zM1028.89 439.7V482.1h1.3V439.7zM1027.5 448.6V482.1h4V448.6zM1033.33 479.3V503.2h1.3V479.3zM1032.0 481.7V503.2h4V481.7zM1037.77 491.3V513.0h1.3V491.3zM1036.4 502.7V508.8h4V502.7zM1046.66 492.2V507.8h1.3V492.2zM1045.3 498.6V506.4h4V498.6zM1064.43 459.0V474.3h1.3V459.0zM1063.1 459.0V474.3h4V459.0zM1068.87 470.1V487.6h1.3V470.1zM1067.5 473.8V482.1h4V473.8zM1073.31 477.5V495.9h1.3V477.5zM1072.0 481.7V490.3h4V481.7zM1077.76 487.6V498.6h1.3V487.6zM1076.4 490.0V492.2h4V490.0zM1082.20 483.9V503.2h1.3V483.9zM1080.8 492.2V498.6h4V492.2zM1086.64 485.7V511.5h1.3V485.7zM1085.3 498.6V506.0h4V498.6zM1091.08 498.6V515.2h1.3V498.6zM1089.7 505.6V512.4h4V505.6zM1095.53 498.6V522.6h1.3V498.6zM1094.2 512.1V519.8h4V512.1zM1104.41 502.3V530.3h1.3V502.3zM1103.1 508.8V530.3h4V508.8zM1122.18 425.9V465.9h1.3V425.9zM1120.8 425.9V457.2h4V425.9zM1131.07 426.4V442.1h1.3V426.4zM1129.7 430.2V438.4h4V430.2zM1135.51 437.6V451.1h1.3V437.6zM1134.2 437.6V447.4h4V437.6zM1153.28 432.4V442.1h1.3V432.4zM1151.9 434.2V440.6h4V434.2zM1157.72 436.9V454.8h1.3V436.9zM1156.4 440.6V451.1h4V440.6zM1171.05 436.9V458.6h1.3V436.9zM1169.7 441.4V444.4h4V441.4zM1175.49 433.9V463.8h1.3V433.9zM1174.1 444.1V445.9h4V444.1zM1179.93 445.9V481.0h1.3V445.9zM1178.6 445.9V478.0h4V445.9zM1193.26 467.6V502.7h1.3V467.6zM1191.9 472.0V502.7h4V472.0zM1197.70 496.0V522.2h1.3V496.0zM1196.4 502.7V510.2h4V502.7zM1211.03 483.3V496.7h1.3V483.3zM1209.7 486.2V493.7h4V486.2zM1224.36 430.9V452.6h1.3V430.9zM1223.0 430.9V449.6h4V430.9zM1228.80 449.6V460.8h1.3V449.6zM1227.4 449.6V453.3h4V449.6zM1233.24 443.6V459.3h1.3V443.6zM1231.9 453.0V457.1h4V453.0zM1246.57 436.9V457.8h1.3V436.9zM1245.2 448.9V453.3h4V448.9zM1251.01 443.6V469.0h1.3V443.6zM1249.7 453.0V467.6h4V453.0zM1268.78 443.9V466.0h1.3V443.9zM1267.4 450.4V462.3h4V450.4zM1273.22 455.0V476.2h1.3V455.0zM1271.9 462.0V476.2h4V462.0zM1282.11 462.7V478.0h1.3V462.7zM1280.8 467.0V478.0h4V467.0zM1286.55 477.4V509.3h1.3V477.4zM1285.2 477.4V505.6h4V477.4zM1295.43 483.5V525.9h1.3V483.5zM1294.1 501.9V518.5h4V501.9zM1299.88 513.9V531.4h1.3V513.9zM1298.5 518.5V527.7h4V518.5zM1308.76 522.2V547.0h1.3V522.2zM1307.4 524.6V527.2h4V524.6zM1317.65 519.1V533.2h1.3V519.1zM1316.3 519.1V528.6h4V519.1zM1322.09 527.7V541.5h1.3V527.7zM1320.7 527.7V529.6h4V527.7zM1339.86 509.9V521.3h1.3V509.9zM1338.5 511.1V521.3h4V511.1zM1344.30 514.8V527.7h1.3V514.8zM1343.0 520.9V524.0h4V520.9zM1348.74 522.7V531.4h1.3V522.7zM1347.4 522.7V525.9h4V522.7zM1353.19 523.1V532.3h1.3V523.1zM1351.8 523.1V532.3h4V523.1zM1357.63 525.9V542.4h1.3V525.9zM1356.3 531.9V542.4h4V531.9zM1362.07 541.5V561.4h1.3V541.5zM1360.7 541.5V555.3h4V541.5zM1370.95 516.7V544.3h1.3V516.7zM1369.6 535.1V544.3h4V535.1zM1375.40 539.7V550.7h1.3V539.7zM1374.0 544.3V547.0h4V544.3zM1384.28 542.4V571.9h1.3V542.4zM1382.9 542.4V548.0h4V542.4zM1393.17 525.9V537.8h1.3V525.9zM1391.8 532.7V536.0h4V532.7zM1402.05 514.0V547.0h1.3V514.0zM1400.7 533.5V536.5h4V533.5zM1415.38 506.6V521.5h1.3V506.6zM1414.0 508.1V517.0h4V508.1zM1419.82 516.3V527.5h1.3V516.3zM1418.5 516.3V524.5h4V516.3zM1433.15 502.8V514.8h1.3V502.8zM1431.8 504.3V506.6h4V504.3zM1437.59 506.6V517.0h1.3V506.6zM1436.2 506.6V514.8h4V506.6zM1446.48 508.1V526.8h1.3V508.1zM1445.1 514.8V523.0h4V514.8zM1455.36 513.3V530.5h1.3V513.3zM1454.0 515.5V529.0h4V515.5zM1459.80 523.0V538.7h1.3V523.0zM1458.5 528.3V538.7h4V528.3zM1477.57 511.1V520.8h1.3V511.1zM1476.2 514.0V515.5h4V514.0zM1482.01 499.1V532.0h1.3V499.1zM1480.7 514.8V526.8h4V514.8zM1490.90 506.6V526.5h1.3V506.6zM1489.5 506.6V526.5h4V506.6zM1499.78 522.0V524.1h1.3V522.0zM1498.4 522.0V524.1h4V522.0zM1504.23 523.8V530.5h1.3V523.8zM1502.9 523.8V530.5h4V523.8zM1508.67 526.0V531.5h1.3V526.0zM1507.3 529.5V531.5h4V529.5zM1513.11 529.0V534.5h1.3V529.0zM1511.8 531.2V534.5h4V531.2zM1539.77 493.1V512.6h1.3V493.1zM1538.4 493.1V508.1h4V493.1zM1566.42 457.5V468.7h1.3V457.5zM1565.1 459.8V462.7h4V459.8zM1570.86 459.8V471.7h1.3V459.8zM1569.5 462.0V466.5h4V462.0zM1575.31 462.7V479.9h1.3V462.7zM1574.0 465.7V474.7h4V465.7zM1584.19 439.6V454.5h1.3V439.6zM1582.8 446.3V453.0h4V446.3zM1588.63 442.6V478.5h1.3V442.6zM1587.3 452.3V475.5h4V452.3zM1597.52 467.2V477.7h1.3V467.2zM1596.2 467.2V475.5h4V467.2zM1610.84 459.0V469.5h1.3V459.0zM1609.5 462.0V466.5h4V462.0zM1619.73 448.5V466.5h1.3V448.5zM1618.4 453.0V463.5h4V453.0zM1633.06 448.5V458.3h1.3V448.5zM1631.7 450.8V453.8h4V450.8zM1641.94 441.1V474.0h1.3V441.1zM1640.6 451.5V456.8h4V451.5zM1655.27 426.1V441.8h1.3V426.1zM1653.9 438.1V440.3h4V438.1zM1664.15 426.1V439.6h1.3V426.1zM1662.8 428.3V439.6h4V428.3zM1668.60 429.1V447.0h1.3V429.1zM1667.2 439.6V444.0h4V439.6zM1695.25 383.1V408.0h1.3V383.1zM1693.9 386.6V403.1h4V386.6zM1699.69 399.0V419.0h1.3V399.0zM1698.3 402.5V411.4h4V402.5zM1708.58 405.2V420.4h1.3V405.2zM1707.2 408.0V417.0h4V408.0zM1713.02 412.1V424.5h1.3V412.1zM1711.7 417.0V421.8h4V417.0zM1717.46 417.0V432.1h1.3V417.0zM1716.1 421.1V432.1h4V421.1zM1721.90 428.7V450.1h1.3V428.7zM1720.6 431.4V442.5h4V431.4zM1730.79 432.8V443.9h1.3V432.8zM1729.4 439.7V443.9h4V439.7zM1739.67 428.7V448.7h1.3V428.7zM1738.3 434.9V445.3h4V434.9zM1744.12 445.3V472.9h1.3V445.3zM1742.8 445.3V455.6h4V445.3zM1753.00 440.4V461.1h1.3V440.4zM1751.7 441.8V459.8h4V441.8zM1761.89 455.6V462.5h1.3V455.6zM1760.5 455.6V462.5h4V455.6z" fill="#ffffff"/>
<path d="M0 158.7L1883 495M30.8 563.1L1843.4 548" stroke="#dcc846" stroke-width="1.8" fill="none"/>
<path d="M0 759.7H1884M0 809.9H1884" stroke="#bcbcc1" stroke-width="1.9" stroke-dasharray="8.1 8.4" stroke-dashoffset="1.5" fill="none"/>
<path d="M-3.0 755.9L-1.1 757.2L3.3 752.9L7.8 758.9L12.2 756.4L16.7 773.8L21.1 769.1L25.6 768.6L30.0 767.0L34.4 764.8L38.9 766.3L43.3 762.5L47.8 762.1L52.2 763.4L56.7 756.6L61.1 754.8L65.5 753.7L70.0 758.9L74.4 762.0L78.9 759.5L83.3 776.4L87.8 776.0L92.2 771.0L96.6 773.1L101.1 777.2L105.5 771.4L110.0 773.8L114.4 771.1L118.8 768.7L123.3 766.5L127.7 759.3L132.2 763.3L136.6 765.3L141.1 755.6L145.5 750.3L149.9 751.5L154.4 748.9L158.8 742.6L163.3 739.5L167.7 758.0L172.2 756.3L176.6 767.4L181.0 764.7L185.5 766.4L189.9 763.8L194.4 763.6L198.8 771.4L203.3 770.2L207.7 768.9L212.1 769.8L216.6 768.7L221.0 767.3L225.5 764.3L229.9 763.0L234.4 762.5L238.8 772.7L243.2 770.5L247.7 763.7L252.1 768.3L256.6 763.1L261.0 770.7L265.4 770.4L269.9 777.1L274.3 779.6L278.8 775.2L283.2 776.8L287.7 772.8L292.1 772.4L296.5 781.0L301.0 783.8L305.4 785.9L309.9 798.2L314.3 808.0L318.8 806.9L323.2 804.1L327.6 812.3L332.1 801.1L336.5 795.5L341.0 796.7L345.4 800.7L349.9 805.6L354.3 803.2L358.7 798.0L363.2 804.2L367.6 800.5L372.1 792.8L376.5 792.5L380.9 790.2L385.4 788.8L389.8 788.2L394.3 788.8L398.7 791.0L403.2 787.0L407.6 788.3L412.0 789.2L416.5 787.7L420.9 785.0L425.4 781.0L429.8 776.9L434.3 776.5L438.7 781.8L443.1 793.2L447.6 792.3L452.0 797.4L456.5 793.4L460.9 788.4L465.4 793.5L469.8 798.1L474.2 794.2L478.7 792.0L483.1 791.1L487.6 794.1L492.0 802.5L496.5 787.1L500.9 792.9L505.3 792.9L509.8 786.5L514.2 784.6L518.7 785.4L523.1 791.8L527.5 797.1L532.0 800.9L536.4 803.2L540.9 807.1L545.3 804.5L549.8 791.9L554.2 795.4L558.6 800.8L563.1 797.3L567.5 795.9L572.0 801.3L576.4 810.5L580.9 813.9L585.3 814.4L589.7 802.9L594.2 798.9L598.6 797.2L603.1 794.3L607.5 792.0L612.0 787.4L616.4 780.8L620.8 778.8L625.3 782.1L629.7 777.2L634.2 774.9L638.6 772.7L643.1 778.0L647.5 783.5L651.9 775.7L656.4 788.1L660.8 790.6L665.3 788.4L669.7 794.3L674.1 788.1L678.6 789.7L683.0 781.8L687.5 780.9L691.9 784.2L696.4 787.2L700.8 782.7L705.2 773.0L709.7 776.3L714.1 772.1L718.6 755.7L723.0 753.7L727.5 756.4L731.9 759.2L736.3 773.6L740.8 765.9L745.2 771.5L749.7 770.5L754.1 769.0L758.6 770.6L763.0 774.7L767.4 775.8L771.9 780.3L776.3 776.8L780.8 784.9L785.2 784.7L789.7 785.6L794.1 782.6L798.5 785.2L803.0 776.5L807.4 779.2L811.9 782.9L816.3 783.9L820.7 791.0L825.2 792.9L829.6 790.2L834.1 789.6L838.5 790.4L843.0 780.8L847.4 772.2L851.8 775.7L856.3 779.1L860.7 779.4L865.2 774.0L869.6 778.9L874.1 775.4L878.5 776.3L882.9 770.2L887.4 781.4L891.8 786.5L896.3 799.5L900.7 801.9L905.2 798.9L909.6 794.6L914.0 793.9L918.5 795.3L922.9 803.5L927.4 797.3L931.8 795.4L936.2 791.0L940.7 789.2L945.1 791.4L949.6 791.7L954.0 792.1L958.5 791.2L962.9 788.1L967.3 788.7L971.8 786.2L976.2 783.7L980.7 793.5L985.1 793.7L989.6 806.8L994.0 809.4L998.4 806.7L1002.9 798.1L1007.3 786.5L1011.8 789.5L1016.2 798.6L1020.7 794.3L1025.1 794.1L1029.5 803.7L1034.0 808.4L1038.4 809.6L1042.9 804.8L1047.3 806.6L1051.8 802.4L1056.2 799.6L1060.6 786.1L1065.1 791.1L1069.5 793.4L1074.0 795.9L1078.4 796.5L1082.8 798.5L1087.3 800.8L1091.7 802.7L1096.2 804.9L1100.6 798.8L1105.1 805.3L1109.5 775.8L1113.9 771.0L1118.4 770.8L1122.8 781.0L1127.3 774.3L1131.7 777.1L1136.2 779.8L1140.6 778.7L1145.0 776.6L1149.5 776.3L1153.9 778.7L1158.4 782.6L1162.8 780.8L1167.3 779.3L1171.7 780.5L1176.1 781.2L1180.6 793.6L1185.0 792.6L1189.5 790.9L1193.9 800.9L1198.4 803.0L1202.8 797.2L1207.2 791.9L1211.7 794.4L1216.1 788.6L1220.6 772.4L1225.0 779.2L1229.4 780.5L1233.9 781.8L1238.3 780.3L1242.8 779.0L1247.2 780.9L1251.7 786.7L1256.1 784.3L1260.5 781.0L1265.0 779.8L1269.4 785.3L1273.9 790.9L1278.3 786.7L1282.8 791.2L1287.2 800.5L1291.6 798.2L1296.1 803.4L1300.5 805.9L1305.0 803.9L1309.4 804.9L1313.9 800.2L1318.3 803.4L1322.7 803.7L1327.2 800.8L1331.6 800.2L1336.1 792.2L1340.5 796.6L1345.0 797.8L1349.4 798.6L1353.8 801.4L1358.3 805.5L1362.7 810.0L1367.2 796.4L1371.6 800.0L1376.0 801.1L1380.5 798.0L1384.9 800.4L1389.4 790.5L1393.8 792.3L1398.3 790.5L1402.7 792.2L1407.1 783.2L1411.6 776.3L1416.0 781.6L1420.5 785.7L1424.9 777.9L1429.4 775.5L1433.8 777.3L1438.2 782.3L1442.7 780.6L1447.1 787.2L1451.6 782.9L1456.0 790.2L1460.5 794.8L1464.9 791.6L1469.3 788.8L1473.8 780.5L1478.2 781.4L1482.7 787.8L1487.1 777.4L1491.5 787.5L1496.0 785.1L1500.4 786.3L1504.9 789.5L1509.3 790.0L1513.8 791.5L1518.2 787.6L1522.6 784.3L1527.1 782.5L1531.5 782.1L1536.0 768.4L1540.4 778.1L1544.9 774.3L1549.3 772.8L1553.7 769.5L1558.2 765.3L1562.6 758.9L1567.1 761.1L1571.5 763.9L1576.0 769.8L1580.4 759.9L1584.8 764.3L1589.3 777.0L1593.7 773.9L1598.2 778.2L1602.6 775.4L1607.1 772.8L1611.5 775.4L1615.9 770.0L1620.4 776.0L1624.8 774.5L1629.3 770.8L1633.7 772.7L1638.1 771.4L1642.6 775.4L1647.0 769.4L1651.5 767.3L1655.9 768.9L1660.4 764.0L1664.8 772.0L1669.2 774.9L1673.7 764.7L1678.1 763.2L1682.6 762.0L1687.0 761.3L1691.5 754.5L1695.9 765.9L1700.3 770.9L1704.8 769.6L1709.2 775.1L1713.7 777.9L1718.1 783.7L1722.6 788.9L1727.0 787.4L1731.4 789.5L1735.9 784.3L1740.3 789.9L1744.8 794.8L1749.2 786.8L1753.7 794.9L1758.1 792.6L1762.5 795.6L1767.0 788.6L1771.4 785.3L1775.9 782.8L1780.3 780.0L1784.7 779.7" stroke="#ededed" stroke-width="1.9" fill="none" stroke-linejoin="round"/>
<path d="M1883.5 0V869M0 824.5H1883.5" stroke="#343844" stroke-width="1" fill="none"/>
<path d="M0 729.5H1999" stroke="#e8e8e8" stroke-width="2" fill="none"/>
<g style="font-family:'Liberation Sans',Arial,sans-serif;font-size:22.4px" fill="#b4b7c0" stroke="#b4b7c0" stroke-width="0.25">
<text x="1897" y="72.6" textLength="70.6" lengthAdjust="spacing">4.0000</text>
<text x="1897" y="150.4" textLength="70.6" lengthAdjust="spacing">3.8000</text>
<text x="1897" y="228.3" textLength="70.6" lengthAdjust="spacing">3.6000</text>
<text x="1897" y="306.1" textLength="70.6" lengthAdjust="spacing">3.4000</text>
<text x="1897" y="384.0" textLength="70.6" lengthAdjust="spacing">3.2000</text>
<text x="1897" y="461.9" textLength="70.6" lengthAdjust="spacing">3.0000</text>
<text x="1897" y="539.7" textLength="70.6" lengthAdjust="spacing">2.8000</text>
<text x="1897" y="617.5" textLength="70.6" lengthAdjust="spacing">2.6000</text>
<text x="1897" y="695.4" textLength="70.6" lengthAdjust="spacing">2.4000</text>
<text x="1897.5" y="792.3" textLength="57" lengthAdjust="spacing">50.00</text>
</g>
<g style="font-family:'Liberation Sans',Arial,sans-serif;font-size:22.4px" fill="#b4b7c0" stroke="#b4b7c0" stroke-width="0.25" text-anchor="middle">
<text x="30.3" y="855.3">13</text>
<text x="136.9" y="855.3">17</text>
<text x="243.5" y="855.3">21</text>
<text x="350.2" y="855.3">25</text>
<text x="536.7" y="855.3" font-weight="bold" stroke="none" textLength="41" lengthAdjust="spacing">Aug</text>
<text x="643.4" y="855.3">5</text>
<text x="750.0" y="855.3">9</text>
<text x="856.6" y="855.3">13</text>
<text x="963.2" y="855.3">17</text>
<text x="1069.8" y="855.3">21</text>
<text x="1176.4" y="855.3">25</text>
<text x="1363.0" y="855.3" font-weight="bold" stroke="none" textLength="41" lengthAdjust="spacing">Sep</text>
<text x="1469.6" y="855.3">5</text>
<text x="1576.3" y="855.3">9</text>
<text x="1682.9" y="855.3">13</text>
<text x="1789.5" y="855.3">17</text>
</g>
<rect x="1888.5" y="4.5" width="109" height="40" rx="5.5" fill="#0f0f0f" stroke="#3a3e48" stroke-width="1"/>
<g style="font-family:'Liberation Sans',Arial,sans-serif;font-size:18px">
<text x="1902.6" y="30.5" textLength="47.3" lengthAdjust="spacing" fill="#dcdcdc" stroke="#dcdcdc" stroke-width="0.3">USDT</text>
</g>
<path d="M1884 418H1994a3.5 3.5 0 0 1 3.5 3.5V469a3.5 3.5 0 0 1 -3.5 3.5H1884z" fill="#2196f3"/>
<g style="font-family:'Liberation Sans',Arial,sans-serif;font-size:22.4px">
<text x="1897.5" y="440.5" textLength="70.2" lengthAdjust="spacing" fill="#ffffff" stroke="#ffffff" stroke-width="0.25">3.0538</text>
<text x="1897.2" y="465.9" textLength="89.2" lengthAdjust="spacing" fill="#e4f1fd" stroke="#e4f1fd" stroke-width="0.2">01:39:52</text>
</g>
<g style="font-family:'Liberation Sans',Arial,sans-serif;font-size:18px">
<text x="10.4" y="29" textLength="249.4" lengthAdjust="spacing" fill="#d1d4dc" stroke="#d1d4dc" stroke-width="0.3">XRP / TetherUS · 4h · Binance</text>
<text x="271.3" y="29" fill="#d1d4dc" stroke="#d1d4dc" stroke-width="0.3">O</text>
<text x="285.8" y="29" textLength="57.4" lengthAdjust="spacing" fill="#3391ea" stroke="#3391ea" stroke-width="0.3">3.0518</text>
<text x="353.2" y="29" fill="#d1d4dc" stroke="#d1d4dc" stroke-width="0.3">H</text>
<text x="366.9" y="29" textLength="58.8" lengthAdjust="spacing" fill="#3391ea" stroke="#3391ea" stroke-width="0.3">3.0579</text>
<text x="436" y="29" fill="#d1d4dc" stroke="#d1d4dc" stroke-width="0.3">L</text>
<text x="446.9" y="29" textLength="56.7" lengthAdjust="spacing" fill="#3391ea" stroke="#3391ea" stroke-width="0.3">3.0418</text>
<text x="514" y="29" fill="#d1d4dc" stroke="#d1d4dc" stroke-width="0.3">C</text>
<text x="527.5" y="29" textLength="59.2" lengthAdjust="spacing" fill="#3391ea" stroke="#3391ea" stroke-width="0.3">3.0538</text>
<text x="598.6" y="29" textLength="152" lengthAdjust="spacing" fill="#3391ea" stroke="#3391ea" stroke-width="0.3">+0.0019 (+0.06%)</text>
<text x="10.4" y="54" textLength="38.2" lengthAdjust="spacing" fill="#d1d4dc" stroke="#d1d4dc" stroke-width="0.3">SMA</text>
<text x="60.5" y="54" textLength="56.2" lengthAdjust="spacing" fill="#3f63ea" stroke="#3f63ea" stroke-width="0.3">3.0193</text>
<text x="10.8" y="79.6" textLength="75.8" lengthAdjust="spacing" fill="#d1d4dc" stroke="#d1d4dc" stroke-width="0.3">Vol · XRP</text>
<text x="98.3" y="79.6" textLength="43.5" lengthAdjust="spacing" fill="#2fa596" stroke="#2fa596" stroke-width="0.3">3.9 M</text>
<text x="10.8" y="105" textLength="94.9" lengthAdjust="spacing" fill="#d1d4dc" stroke="#d1d4dc" stroke-width="0.3">MA50&amp;200</text>
<text x="117.8" y="105" textLength="56" lengthAdjust="spacing" fill="#2a72e4" stroke="#2a72e4" stroke-width="0.3">2.9518</text>
<text x="185.5" y="105" textLength="56.2" lengthAdjust="spacing" fill="#21bfe6" stroke="#21bfe6" stroke-width="0.3">3.0291</text>
<text x="11.5" y="760.4" textLength="26.5" lengthAdjust="spacing" fill="#b2b5be">RSI</text>
<text x="49.6" y="760.4" textLength="44.4" lengthAdjust="spacing" fill="#ffffff" stroke="#ffffff" stroke-width="0.8">54.13</text>
</g>
</svg>
</body></html>
